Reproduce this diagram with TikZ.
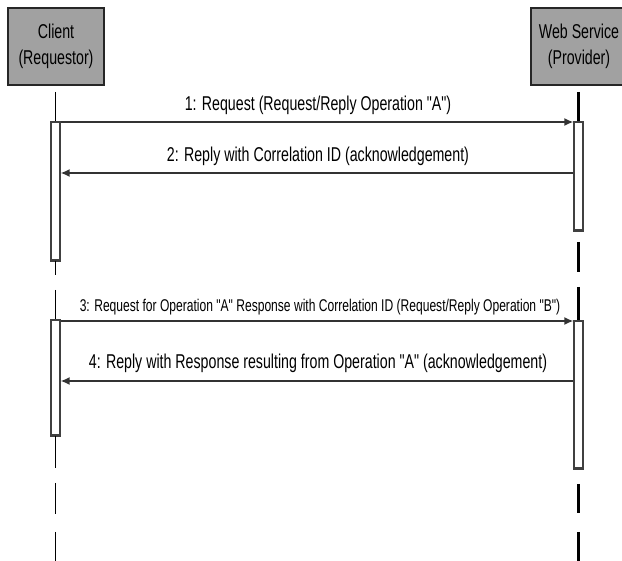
\documentclass[tikz,border=0pt]{standalone}
\usepackage{fontspec}
\newfontfamily\seqfont{Liberation Sans}[FakeStretch=0.71]
\usetikzlibrary{arrows.meta}

\begin{document}
\begin{tikzpicture}[x=1pt, y=-1pt,
	actor/.style={draw=black!85, line width=1.4pt, fill=black!37, minimum width=96pt, minimum height=77pt, align=center, inner sep=0pt, font=\seqfont\fontsize{20}{26}\selectfont},
	actbar/.style={draw=black!75, line width=1.1pt, fill=white, minimum width=9pt, inner sep=0pt},
	msg/.style={draw=black!80, line width=2.6pt, -{Latex[length=9pt,width=8pt]}},
	life/.style={line width=1.3pt},
	slife/.style={line width=2.2pt},
	lbl/.style={anchor=base, inner sep=0pt, font=\seqfont\fontsize{20}{24}\selectfont},
	smalllbl/.style={anchor=base, inner sep=0pt, font=\seqfont\fontsize{17}{20}\selectfont}]
		\useasboundingbox (0,0) rectangle (622,561);
		\clip (0,0) rectangle (622,561);
		
		% the two parties
		\node[actor] (client) at (56,46.5) {Client\\(Requestor)};
		\node[actor] (server) at (579,46.5) {Web Service\\(Provider)};
		
		% activation bars
		\node[actbar, minimum height=138pt] (cbar1) at (55.5,191) {};
		\node[actbar, minimum height=115pt] (cbar2) at (55.5,377.5) {};
		\node[actbar, minimum height=108pt] (sbar1) at (578.5,176) {};
		\node[actbar, minimum height=147pt] (sbar2) at (578.5,394.5) {};
		\foreach \b in {cbar1,cbar2,sbar1,sbar2}
			\draw[line width=2.4pt, black!75] (\b.south west) -- (\b.south east);
		
		% lifelines of the client
		\draw[life] (55.5,92) -- (cbar1.north);
		\draw[life] (cbar1.south) -- (55.5,275);
		\draw[life] (55.5,290) -- (cbar2.north);
		\draw[life] (cbar2.south) -- (55.5,468);
		\foreach \a/\b in {483/514,532/561}
			\draw[life] (55.5,\a) -- (55.5,\b);
		
		% lifelines of the service
		\draw[slife] (578.5,92) -- (sbar1.north);
		\draw[slife] (578.5,242) -- (578.5,272);
		\draw[slife] (578.5,287) -- (sbar2.north);
		\foreach \a/\b in {484/513,532/561}
			\draw[slife] (578.5,\a) -- (578.5,\b);
		
		% message heights
		\coordinate (m1) at (0,122);
		\coordinate (m2) at (0,173);
		\coordinate (m3) at (0,321);
		\coordinate (m4) at (0,381);
		
		% messages
		\draw[msg] (cbar1.east |- m1) -- (sbar1.west |- m1);
		\draw[msg] (sbar1.west |- m2) -- (cbar1.east |- m2);
		\draw[msg] (cbar2.east |- m3) -- (sbar2.west |- m3);
		\draw[msg] (sbar2.west |- m4) -- (cbar2.east |- m4);
		
		% message labels
		\node[lbl] (l1) at (318,111) {1: Request (Request/Reply Operation "A")};
		\node[lbl] (l2) at (318,162) {2: Reply with Correlation ID (acknowledgement)};
		\node[smalllbl] (l3) at (320,312) {3: Request for Operation "A" Response with Correlation ID (Request/Reply Operation "B")};
		\node[lbl] (l4) at (318,369) {4: Reply with Response resulting from Operation "A" (acknowledgement)};
	\end{tikzpicture}
\end{document}
